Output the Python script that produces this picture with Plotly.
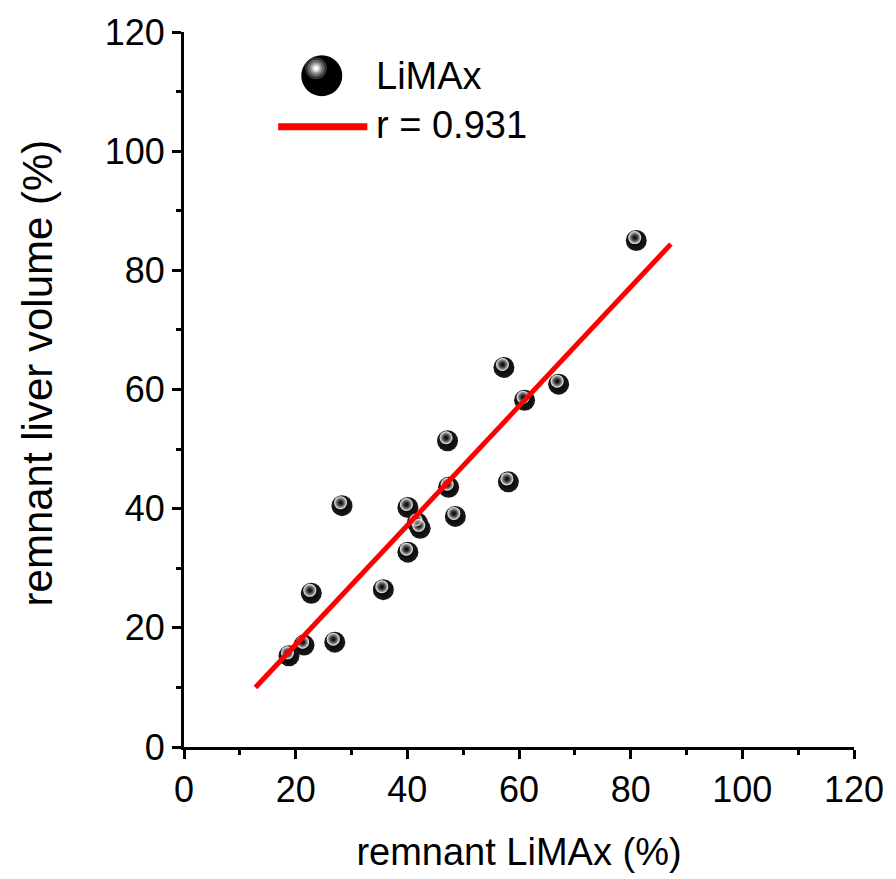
import plotly.graph_objects as go

# Data
remnant_limax = [81.0, 57.3, 67.1, 61.0, 58.1, 47.2, 47.4, 28.3, 40.1, 41.8, 42.3,
                 48.6, 40.1, 22.8, 35.7, 27.0, 21.5, 18.8]
remnant_volume = [85.0, 63.7, 60.9, 58.2, 44.5, 51.4, 43.6, 40.5, 40.2, 37.6, 36.7,
                  38.7, 32.7, 25.8, 26.4, 17.6, 17.1, 15.3]
fit_x = [12.8, 87.2]
fit_y = [10.0, 84.4]
x_ticks = [0, 20, 40, 60, 80, 100, 120]
y_ticks = [0, 20, 40, 60, 80, 100, 120]

W, H = 896, 879
ML, MR, MT, MB = 184, 36, 27, 131
plot_w = W - ML - MR
plot_h = H - MT - MB
XR, YR = [0, 120], [0, 120]
px_per_x = plot_w / (XR[1] - XR[0])
px_per_y = plot_h / (YR[1] - YR[0])

FONT = "Liberation Sans, Arial, sans-serif"

fig = go.Figure()

# Sphere body
fig.add_trace(go.Scatter(
    x=remnant_limax, y=remnant_volume, mode="markers",
    marker=dict(size=21, color="#1a1a1a",
                gradient=dict(type="radial", color="#000000"),
                line=dict(width=0)),
    showlegend=False, hoverinfo="skip"))
# Highlight (offset a few pixels up-left)
hx = [v - 1.5 / px_per_x for v in remnant_limax]
hy = [v + 3.0 / px_per_y for v in remnant_volume]
fig.add_trace(go.Scatter(
    x=hx, y=hy, mode="markers",
    marker=dict(size=13, color="#ffffff",
                gradient=dict(type="radial", color="rgba(60,60,60,0.0)"),
                line=dict(width=0)),
    showlegend=False, hoverinfo="skip"))
# Regression line
fig.add_trace(go.Scatter(
    x=fit_x, y=fit_y, mode="lines",
    line=dict(color="#ff0000", width=5),
    showlegend=False, hoverinfo="skip"))

axis_common = dict(
    showgrid=False, zeroline=False, showline=True, linecolor="black", linewidth=3,
    ticks="outside", ticklen=9, tickwidth=3, tickcolor="black",
    tickfont=dict(family=FONT, size=36, color="black"),
    minor=dict(ticks="outside", ticklen=5, tickwidth=3, tickcolor="black", dtick=10),
    mirror=False,
)

fig.update_layout(
    width=W, height=H,
    margin=dict(l=ML, r=MR, t=MT, b=MB),
    paper_bgcolor="white", plot_bgcolor="white",
    xaxis=dict(range=XR, tickvals=x_ticks, ticktext=[str(v) for v in x_ticks],
               title=dict(text="remnant LiMAx (%)", font=dict(family=FONT, size=38, color="black"),
                          standoff=30),
               **axis_common),
    yaxis=dict(range=YR, tickvals=y_ticks, ticktext=[str(v) for v in y_ticks],
               **axis_common),
)

def px2paper(px, py):
    return (px - ML) / plot_w, (H - MB - py) / plot_h

# Y axis title (as annotation for precise placement)
ytx, yty = px2paper(36, 371)
fig.add_annotation(x=ytx, y=yty, xref="paper", yref="paper", xanchor="center", yanchor="middle",
                   text="remnant liver volume (%)", textangle=-90, showarrow=False,
                   font=dict(family=FONT, size=42, color="black"))

# Manual legend
sx, sy = px2paper(323, 71)
def circ(dx, dy, r, color):
    return dict(type="circle", xref="paper", yref="paper", xsizemode="pixel", ysizemode="pixel",
                xanchor=sx, yanchor=sy, x0=dx - r, x1=dx + r, y0=dy - r, y1=dy + r,
                fillcolor=color, line=dict(width=0))
shapes = [
    circ(0, 0, 20.5, "black"),
    circ(-5.7, 7.3, 11, "#333333"),
    circ(-5.7, 7.3, 8.5, "#666666"),
    circ(-5.7, 7.3, 6, "#9a9a9a"),
    circ(-5.7, 7.3, 4, "#cfcfcf"),
    circ(-5.7, 7.3, 2.2, "#ffffff"),
]
lx0, ly = px2paper(279, 122.5)
lx1, _ = px2paper(369, 122.5)
shapes.append(dict(type="line", xref="paper", yref="paper", x0=lx0, x1=lx1, y0=ly, y1=ly,
                   line=dict(color="#ff0000", width=7)))
fig.update_layout(shapes=shapes)

tx, ty1 = px2paper(376, 71)
_, ty2 = px2paper(376, 121)
fig.add_annotation(x=tx, y=ty1, xref="paper", yref="paper", xanchor="left", yanchor="middle",
                   text="LiMAx", showarrow=False, font=dict(family=FONT, size=38, color="black"))
fig.add_annotation(x=tx, y=ty2, xref="paper", yref="paper", xanchor="left", yanchor="middle",
                   text="r = 0.931", showarrow=False, font=dict(family=FONT, size=38, color="black"))

fig.write_html("out.html")
